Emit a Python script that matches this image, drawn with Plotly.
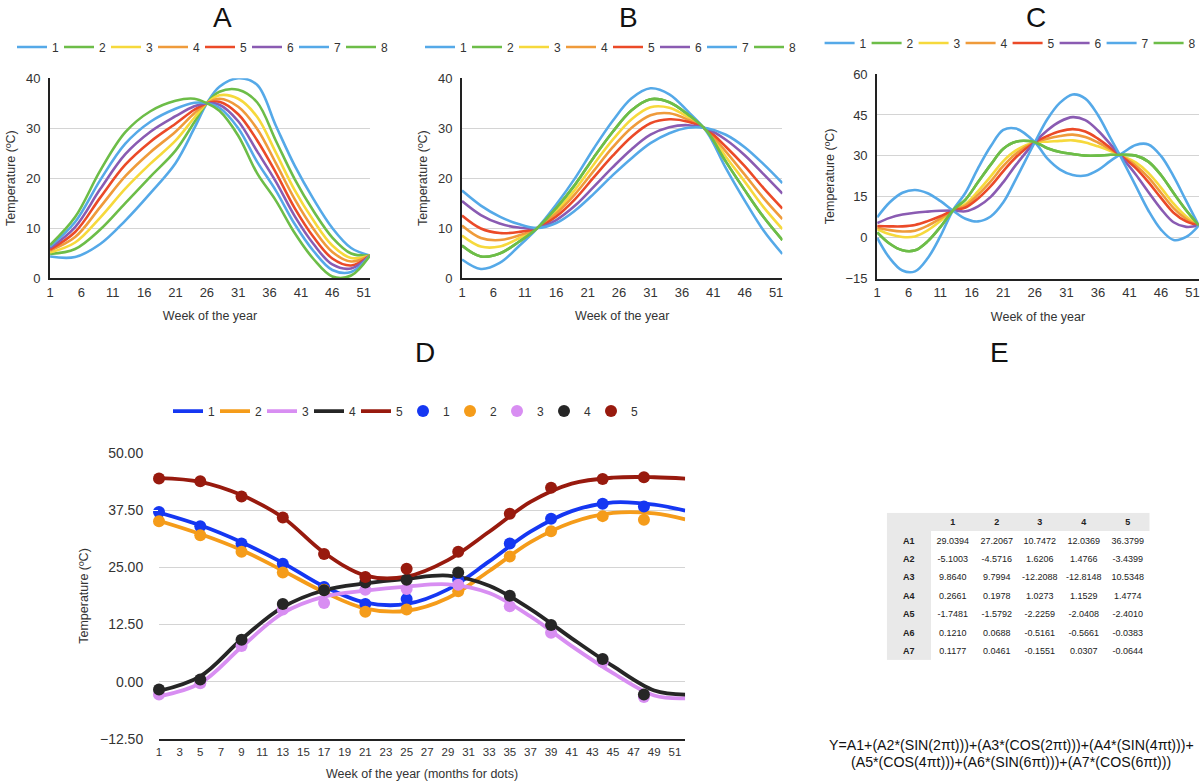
import plotly.graph_objects as go

FONT = "Liberation Sans, Arial, Helvetica, sans-serif"

# ---------------- panel A ----------------
weeks_a = [1, 5, 9, 13, 17, 21, 24, 26, 28, 31, 34, 37, 40, 43, 46, 49, 52]
a1 = [4.3, 4.2, 6.8, 11.5, 17.0, 23.0, 30.0, 35.0, 38.3, 40.0, 38.7, 30.5, 22.5, 15.8, 10.0, 6.0, 4.5]
a2 = [4.8, 5.8, 9.7, 15.0, 20.3, 25.5, 31.2, 35.0, 37.3, 37.7, 35.2, 27.5, 19.8, 13.4, 8.1, 4.9, 4.5]
a3 = [5.1, 7.1, 12.1, 17.9, 22.9, 27.5, 32.1, 35.0, 36.6, 35.9, 32.3, 25.1, 17.6, 11.5, 6.5, 4.0, 4.5]
a4 = [5.5, 8.2, 14.2, 20.4, 25.2, 29.3, 33.0, 35.0, 35.9, 34.3, 29.9, 23.0, 15.8, 9.8, 5.2, 3.3, 4.5]
a5 = [5.7, 9.2, 16.1, 22.7, 27.3, 30.9, 33.7, 35.0, 35.3, 32.8, 27.6, 21.1, 14.0, 8.2, 3.9, 2.5, 4.5]
a6 = [6.0, 10.2, 17.8, 24.8, 29.3, 32.4, 34.4, 35.0, 34.7, 31.4, 25.4, 19.3, 12.4, 6.8, 2.7, 1.9, 4.5]
a7 = [6.3, 11.2, 19.6, 26.9, 31.3, 33.9, 35.1, 35.0, 34.1, 30.0, 23.3, 17.5, 10.8, 5.4, 1.6, 1.2, 4.5]
a8 = [6.6, 12.2, 21.5, 29.2, 33.4, 35.5, 35.9, 35.0, 33.5, 28.5, 21.0, 15.5, 9.0, 3.8, 0.3, 0.5, 4.5]

# ---------------- panel B ----------------
weeks_b = [1, 4, 7, 10, 13, 16, 19, 22, 25, 28, 31, 34, 37, 40, 43, 46, 49, 52]
b1 = [3.7, 1.8, 3.0, 6.3, 10.0, 14.7, 20.0, 26.0, 31.5, 36.0, 38.0, 36.8, 33.3, 29.2, 22.0, 15.5, 9.5, 4.8]
b2 = [6.5, 4.3, 4.9, 7.2, 10.0, 14.0, 18.7, 24.2, 29.3, 33.6, 35.8, 35.2, 32.7, 29.4, 23.3, 17.6, 12.2, 7.6]
b3 = [8.5, 6.3, 6.3, 7.9, 10.0, 13.4, 17.7, 22.8, 27.7, 31.8, 34.2, 34.1, 32.2, 29.5, 24.3, 19.3, 14.2, 9.8]
b4 = [10.5, 8.0, 7.6, 8.5, 10.0, 12.9, 16.8, 21.5, 26.2, 30.1, 32.6, 33.0, 31.7, 29.6, 25.3, 20.7, 16.0, 11.8]
b5 = [12.5, 9.9, 9.0, 9.2, 10.0, 12.3, 15.8, 20.2, 24.5, 28.3, 31.0, 31.8, 31.3, 29.7, 26.3, 22.4, 18.0, 13.9]
b6 = [15.4, 12.6, 10.9, 10.1, 10.0, 11.6, 14.5, 18.3, 22.2, 25.8, 28.7, 30.2, 30.6, 29.9, 27.7, 24.6, 20.8, 16.9]
b7 = [17.5, 14.5, 12.3, 10.8, 10.0, 11.0, 13.5, 16.9, 20.6, 24.0, 27.0, 29.0, 30.1, 30.0, 28.7, 26.2, 22.8, 19.0]
b8 = [6.5, 4.3, 4.9, 7.2, 10.0, 14.0, 18.7, 24.2, 29.3, 33.6, 35.8, 35.2, 32.7, 29.4, 23.3, 17.6, 12.2, 7.6]

# ---------------- panel C ----------------
weeks_c = [1, 3, 5, 7, 9, 11, 13, 15, 17, 19, 21, 23, 26, 28, 30, 32, 34, 36, 38, 40, 42, 44, 46, 48, 50, 52]
c1 = [0.0, -7.5, -12.0, -12.3, -7.5, 0.5, 10.0, 16.5, 25.5, 33.5, 39.5, 40.0, 35.0, 29.0, 25.0, 23.0,
      22.8, 24.8, 28.2, 31.2, 34.0, 34.2, 30.0, 22.5, 13.5, 4.5]
c2 = [2.0, -2.2, -4.6, -4.6, -1.3, 3.9, 10.0, 14.0, 20.4, 26.8, 32.6, 35.2, 35.0, 32.8, 31.4, 30.7,
      30.1, 30.1, 30.4, 30.4, 30.1, 27.9, 23.0, 16.4, 10.1, 4.5]
c3 = [3.2, 1.3, 0.3, 0.5, 2.7, 6.1, 10.0, 12.4, 17.1, 22.5, 28.1, 32.0, 35.0, 35.2, 35.5, 35.7,
      34.9, 33.5, 31.8, 29.8, 27.6, 23.8, 18.4, 12.5, 7.8, 4.5]
c4 = [3.8, 2.8, 2.3, 2.6, 4.4, 7.0, 10.0, 11.8, 15.8, 20.7, 26.3, 30.8, 35.0, 36.3, 37.3, 37.8,
      36.9, 34.9, 32.4, 29.6, 26.5, 22.1, 16.5, 10.9, 6.9, 4.5]
c5 = [4.3, 4.2, 4.2, 4.7, 6.1, 7.9, 10.0, 11.1, 14.4, 18.9, 24.4, 29.5, 35.0, 37.3, 39.0, 39.8,
      38.9, 36.3, 32.9, 29.4, 25.5, 20.4, 14.6, 9.2, 6.0, 4.5]
c6 = [5.4, 7.3, 8.5, 9.2, 9.6, 9.9, 10.0, 9.7, 11.5, 15.0, 20.4, 26.7, 35.0, 39.4, 42.6, 44.2,
      43.1, 39.3, 34.2, 28.9, 23.2, 16.8, 10.6, 5.7, 4.0, 4.5]
c7 = [7.5, 13.0, 16.5, 17.5, 16.3, 13.5, 10.0, 7.0, 6.0, 7.8, 13.0, 21.5, 35.0, 43.5, 49.5, 52.5,
      51.0, 45.0, 36.5, 28.0, 19.0, 10.0, 3.0, -0.8, 0.3, 4.5]
c8 = [2.0, -2.2, -4.6, -4.6, -1.3, 3.9, 10.0, 14.0, 20.4, 26.8, 32.6, 35.2, 35.0, 32.8, 31.4, 30.7,
      30.1, 30.1, 30.4, 30.4, 30.1, 27.9, 23.0, 16.4, 10.1, 4.5]

# ---------------- panel D ----------------
weeks_d = [1, 5, 9, 13, 17, 21, 25, 29, 33, 37, 41, 45, 49, 52]
d1 = [37.0, 34.2, 30.5, 26.0, 20.8, 17.3, 17.0, 20.2, 26.3, 32.8, 37.3, 39.2, 38.7, 37.4]
d2 = [35.2, 32.3, 28.8, 24.3, 19.6, 16.0, 15.5, 18.3, 24.2, 30.5, 34.8, 36.9, 36.8, 35.5]
d3 = [-3.2, -0.3, 7.6, 15.0, 18.6, 19.9, 20.8, 21.3, 19.4, 14.3, 7.8, 1.9, -3.0, -3.6]
d4 = [-2.0, 1.2, 9.3, 16.3, 20.0, 21.5, 22.5, 23.2, 21.0, 15.9, 9.5, 3.4, -1.9, -2.8]
d5 = [44.5, 43.7, 40.8, 35.9, 28.2, 23.2, 23.0, 26.6, 32.8, 39.3, 43.3, 44.6, 44.7, 44.4]

dot_weeks = [1, 5, 9, 13, 17, 21, 25, 30, 35, 39, 44, 48]
dots1 = [37.1, 34.0, 30.2, 25.8, 20.7, 17.0, 18.1, 22.3, 30.2, 35.6, 38.9, 38.3]
dots2 = [35.1, 32.0, 28.4, 23.9, 20.1, 15.3, 15.8, 19.8, 27.4, 32.9, 36.2, 35.4]
dots3 = [-2.8, -0.3, 7.8, 15.8, 17.2, 20.1, 20.3, 21.2, 16.5, 10.7, 4.3, -3.3]
dots4 = [-1.7, 0.5, 9.2, 17.0, 20.0, 21.7, 22.3, 23.9, 18.8, 12.4, 5.0, -2.8]
dots5 = [44.4, 43.8, 40.5, 35.9, 27.9, 22.9, 24.7, 28.4, 36.7, 42.4, 44.3, 44.7]

# ---------------- panel E (coefficients table) ----------------
coef_cols = ["1", "2", "3", "4", "5"]
coef_rows = ["A1", "A2", "A3", "A4", "A5", "A6", "A7"]
coef1 = ["29.0394", "-5.1003", "9.8640", "0.2661", "-1.7481", "0.1210", "0.1177"]
coef2 = ["27.2067", "-4.5716", "9.7994", "0.1978", "-1.5792", "0.0688", "0.0461"]
coef3 = ["10.7472", "1.6206", "-12.2088", "1.0273", "-2.2259", "-0.5161", "-0.1551"]
coef4 = ["12.0369", "1.4766", "-12.8148", "1.1529", "-2.0408", "-0.5661", "0.0307"]
coef5 = ["36.3799", "-3.4399", "10.5348", "1.4774", "-2.4010", "-0.0383", "-0.0644"]
formula = ["Y=A1+(A2*(SIN(2\u03c0t)))+(A3*(COS(2\u03c0t)))+(A4*(SIN(4\u03c0t)))+",
           "(A5*(COS(4\u03c0t)))+(A6*(SIN(6\u03c0t)))+(A7*(COS(6\u03c0t)))"]

names8 = ["1", "2", "3", "4", "5", "6", "7", "8"]
colors8 = ["#55a9e8", "#6dbd48", "#f6d93c", "#ef9b3b", "#eb4a28", "#8a5bb2", "#55a9e8", "#6dbd48"]
names5 = ["1", "2", "3", "4", "5"]
colors5 = ["#1537f2", "#f59c1a", "#d88ef2", "#262626", "#981a0e"]

fig = go.Figure()

panels = [
    (weeks_a, [a1, a2, a3, a4, a5, a6, a7, a8], "x", "y", "legend"),
    (weeks_b, [b1, b2, b3, b4, b5, b6, b7, b8], "x2", "y2", "legend2"),
    (weeks_c, [c1, c2, c3, c4, c5, c6, c7, c8], "x3", "y3", "legend3"),
]
for weeks, series, xa, ya, lg in panels:
    for name, color, vals in zip(names8, colors8, series):
        fig.add_trace(go.Scatter(
            x=weeks, y=vals, mode="lines", name=name,
            line=dict(color=color, width=2.6, shape="spline", smoothing=1.0),
            xaxis=xa, yaxis=ya, legend=lg
        ))

for name, color, vals in zip(names5, colors5, [d1, d2, d3, d4, d5]):
    fig.add_trace(go.Scatter(
        x=weeks_d, y=vals, mode="lines", name=name,
        line=dict(color=color, width=3.8, shape="spline", smoothing=1.0),
        xaxis="x4", yaxis="y4", legend="legend4"
    ))
for name, color, vals in zip(names5, colors5, [dots1, dots2, dots3, dots4, dots5]):
    fig.add_trace(go.Scatter(
        x=dot_weeks, y=vals, mode="markers", name=name,
        marker=dict(color=color, size=12), cliponaxis=False,
        xaxis="x4", yaxis="y4", legend="legend4"
    ))

# table E drawn as a heatmap grid: grey header row / label column, white value cells
coef_values = [coef1, coef2, coef3, coef4, coef5]
table_text = [[""] + ["<b>%s</b>" % c for c in coef_cols]]
table_fill = [[1] * 6]
for i, r in enumerate(coef_rows):
    table_text.append(["<b>%s</b>" % r] + [col[i] for col in coef_values])
    table_fill.append([1, 0, 0, 0, 0, 0])

fig.add_trace(go.Heatmap(
    z=table_fill, text=table_text, texttemplate="%{text}",
    textfont=dict(family=FONT, size=9, color="#222"),
    colorscale=[[0, "white"], [1, "#e9e9e9"]], zmin=0, zmax=1, showscale=False,
    hoverinfo="skip", xaxis="x5", yaxis="y5"
))

titlefont = dict(family=FONT, size=12.5, color="#333")


def xaxis(domain, anchor, tickvals, title, size=13, standoff=13):
    return dict(domain=domain, anchor=anchor, range=[1, 52], tickvals=tickvals,
                showgrid=False, zeroline=False, showline=True, linecolor="#222", linewidth=2,
                ticks="outside", ticklen=1, tickcolor="white",
                tickfont=dict(family=FONT, size=size, color="#333"),
                title=dict(text=title, font=titlefont, standoff=standoff))


def yaxis(domain, anchor, rng, dtick, showline=True, fmt=None, size=13, ticklen=5, standoff=8):
    return dict(domain=domain, anchor=anchor, range=rng, dtick=dtick, tick0=rng[0],
                showgrid=True, gridcolor="#d4d4d4", gridwidth=1, zeroline=False,
                showline=showline, linecolor="#222", linewidth=2,
                ticks="outside", ticklen=ticklen, tickcolor="white", tickformat=fmt,
                tickfont=dict(family=FONT, size=size, color="#333"),
                title=dict(text="Temperature (\u00baC)", font=titlefont, standoff=standoff))


ticks_abc = list(range(1, 52, 5))
ticks_d = list(range(1, 52, 2))


def legend(x, y):
    return dict(orientation="h", x=x, y=y, xanchor="left", yanchor="middle",
                entrywidth=2, traceorder="normal", bgcolor="rgba(0,0,0,0)",
                font=dict(family=FONT, size=12, color="#333"))


annotations = []
for txt, x, y in [("A", 0.185, 0.978), ("B", 0.524, 0.978), ("C", 0.863, 0.978),
                  ("D", 0.354, 0.5504), ("E", 0.833, 0.5504)]:
    annotations.append(dict(text=txt, x=x, y=y, xref="paper", yref="paper", showarrow=False,
                            xanchor="center", yanchor="middle",
                            font=dict(family=FONT, size=28, color="#111")))
for line, y in zip(formula, [0.0485, 0.0268]):
    annotations.append(dict(text=line, x=0.8425, y=y, xref="paper", yref="paper", showarrow=False,
                            xanchor="center", yanchor="middle",
                            font=dict(family=FONT, size=14.2, color="#111")))

fig.update_layout(
    width=1200, height=783,
    margin=dict(l=0, r=0, t=0, b=0, autoexpand=False),
    paper_bgcolor="white", plot_bgcolor="white",
    font=dict(family=FONT),
    xaxis=xaxis([0.0417, 0.3083], "y", ticks_abc, "Week of the year"),
    yaxis=yaxis([0.645, 0.9], "x", [0, 40], 10),
    xaxis2=xaxis([0.385, 0.652], "y2", ticks_abc, "Week of the year"),
    yaxis2=yaxis([0.645, 0.9], "x2", [0, 40], 10),
    xaxis3=xaxis([0.731, 0.999], "y3", ticks_abc, "Week of the year"),
    yaxis3=yaxis([0.644, 0.9055], "x3", [-15, 60], 15),
    xaxis4=xaxis([0.1325, 0.571], "y4", ticks_d, "Week of the year (months for dots)",
                 size=11.5, standoff=12),
    yaxis4=yaxis([0.0562, 0.4215], "x4", [-12.5, 50], 12.5, showline=False, fmt=".2f",
                 size=14, ticklen=12, standoff=8),
    xaxis5=dict(domain=[0.739, 0.958], anchor="y5", visible=False, range=[-0.5, 5.5]),
    yaxis5=dict(domain=[0.157, 0.345], anchor="x5", visible=False, range=[7.5, -0.5]),
    legend=legend(0.01, 0.94),
    legend2=legend(0.35, 0.94),
    legend3=legend(0.683, 0.945),
    legend4=legend(0.14, 0.475),
    annotations=annotations,
)

# the page body keeps the browser's default 8px margin otherwise
fig.write_html("out.html", config={"displayModeBar": False},
               post_script="document.body.style.margin = '0px';")
